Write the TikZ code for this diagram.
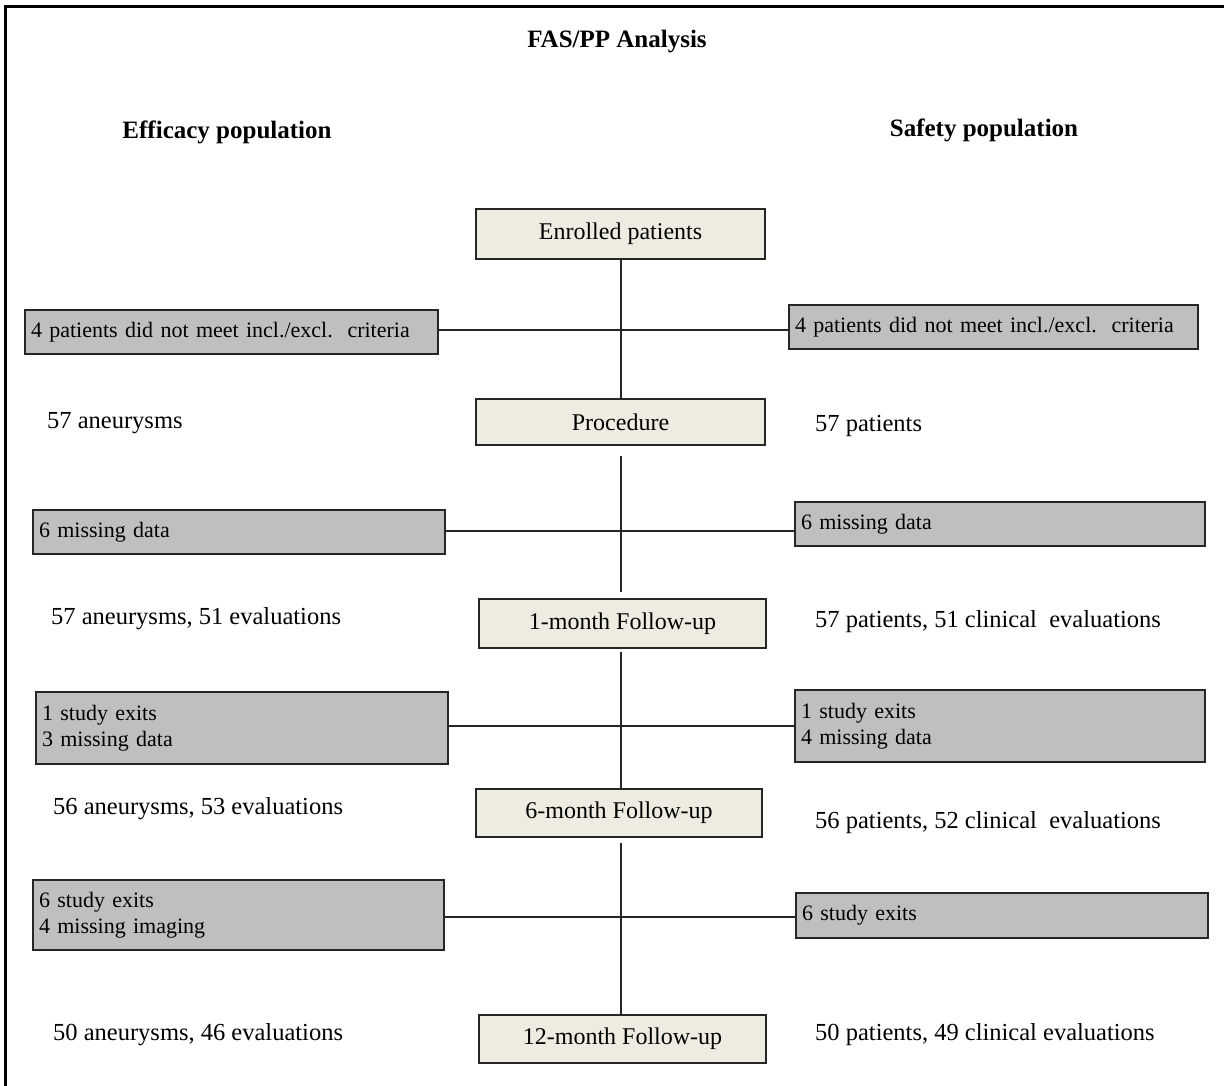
\documentclass[tikz,border=0pt]{standalone}
\usepackage{fontspec}
\setmainfont{Liberation Serif}
\definecolor{creamfill}{HTML}{EEECE1}
\definecolor{greyfill}{HTML}{BFBFBF}
\definecolor{edge}{HTML}{262626}
\begin{document}
\begin{tikzpicture}[x=1pt,y=-1pt,
  stagebox/.style={draw=edge,line width=1.4pt,fill=creamfill,inner sep=0pt,
    font=\fontsize{24}{28}\selectfont},
  lossbox/.style={draw=edge,line width=1.4pt,fill=greyfill,inner xsep=6pt,inner ysep=0pt,
    align=left,font=\fontsize{22}{26.5}\selectfont},
  countlabel/.style={anchor=west,inner sep=0pt,font=\fontsize{24.5}{28}\selectfont},
  headlabel/.style={inner sep=0pt,font=\fontsize{25}{30}\selectfont\bfseries},
  link/.style={draw=edge,line width=1.6pt}]
\useasboundingbox (0,0) rectangle (1224,1086);
\fill[white] (0,0) rectangle (1224,1086);
% frame
\coordinate (ftl) at (5.5,7);
\coordinate (ftr) at (1224,7);
\coordinate (fbl) at (5.5,1086);
\draw[line width=3pt] (ftr) -- (ftl) -- (fbl);
% headings
\node[headlabel] (title) at (617,42) {FAS/PP Analysis};
\node[headlabel] (effh) at (227,132) {Efficacy population};
\node[headlabel] (safh) at (984,130) {Safety population};
% stage boxes
\node[stagebox,minimum width=289pt,minimum height=50pt] (enr) at (620.5,234) {Enrolled patients};
\node[stagebox,minimum width=289pt,minimum height=46pt] (proc) at (620.5,422) {Procedure};
\node[stagebox,minimum width=287pt,minimum height=49pt] (m1) at (622.5,623.5) {1-month Follow-up};
\node[stagebox,minimum width=286pt,minimum height=48pt] (m6) at (619,813) {6-month Follow-up};
\node[stagebox,minimum width=287pt,minimum height=48pt] (m12) at (622.5,1039) {12-month Follow-up};
% loss boxes
\node[lossbox,text width=401pt,minimum height=44pt] (l1) at (231.5,332) {4 patients did not meet incl./excl.\ \ criteria};
\node[lossbox,text width=397pt,minimum height=44pt] (r1) at (993.5,327) {4 patients did not meet incl./excl.\ \ criteria};
\node[lossbox,text width=400pt,minimum height=44pt] (l2) at (239,532) {6 missing data};
\node[lossbox,text width=398pt,minimum height=44pt] (r2) at (1000,524) {6 missing data};
\node[lossbox,text width=400pt,minimum height=72pt] (l3) at (242,728) {1 study exits\\3 missing data};
\node[lossbox,text width=398pt,minimum height=72pt] (r3) at (1000,726) {1 study exits\\4 missing data};
\node[lossbox,text width=399pt,minimum height=70pt] (l4) at (238.5,915) {6 study exits\\4 missing imaging};
\node[lossbox,text width=400pt,minimum height=45pt] (r4) at (1002,915.5) {6 study exits};
% counts
\node[countlabel] (c1l) at (47,423) {57 aneurysms};
\node[countlabel] (c1r) at (815,426) {57 patients};
\node[countlabel] (c2l) at (51,619) {57 aneurysms, 51 evaluations};
\node[countlabel] (c2r) at (815,622) {57 patients, 51 clinical\ \ evaluations};
\node[countlabel] (c3l) at (53,809) {56 aneurysms, 53 evaluations};
\node[countlabel] (c3r) at (815,823) {56 patients, 52 clinical\ \ evaluations};
\node[countlabel] (c4l) at (53,1035) {50 aneurysms, 46 evaluations};
\node[countlabel] (c4r) at (815,1035) {50 patients, 49 clinical evaluations};
% spine
\coordinate (spine) at (621,0);
\draw[link] (spine |- enr.south) -- (spine |- proc.north);
\draw[link] ([yshift=-10pt]spine |- proc.south) -- ([yshift=6pt]spine |- m1.north);
\draw[link] ([yshift=-3pt]spine |- m1.south) -- (spine |- m6.north);
\draw[link] ([yshift=-5pt]spine |- m6.south) -- (spine |- m12.north);
% horizontal connectors
\coordinate (h1) at (621,330);
\coordinate (h2) at (621,531);
\coordinate (h3) at (621,726);
\coordinate (h4) at (621,917);
\draw[link] (l1.east |- h1) -- (r1.west |- h1);
\draw[link] (l2.east |- h2) -- (r2.west |- h2);
\draw[link] (l3.east |- h3) -- (r3.west |- h3);
\draw[link] (l4.east |- h4) -- (r4.west |- h4);
\end{tikzpicture}
\end{document}
